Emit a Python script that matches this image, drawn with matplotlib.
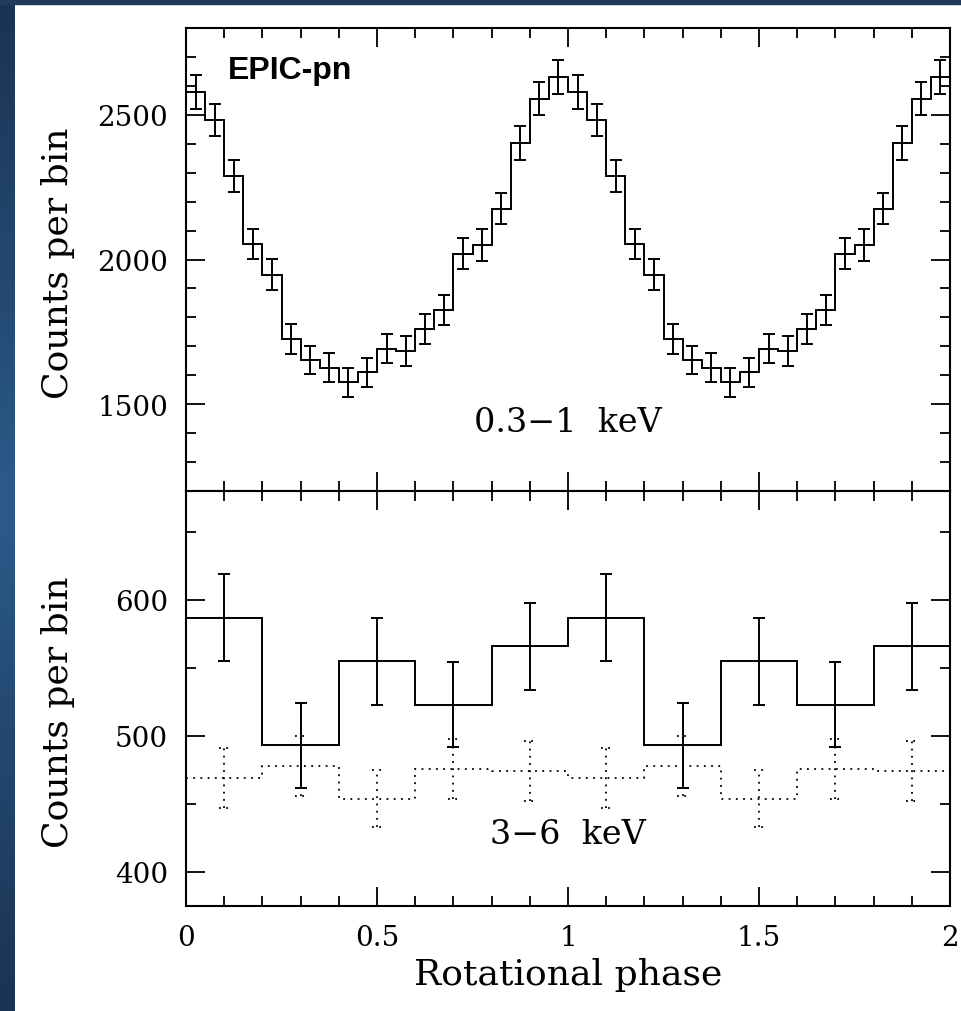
import numpy as np
import matplotlib
matplotlib.use("Agg")
import matplotlib.pyplot as plt
from matplotlib.ticker import MultipleLocator, FormatStrFormatter
from matplotlib.patches import Rectangle

# 0.3-1 keV light curve, 20 bins per cycle (shown twice)
soft_counts = [2579, 2483, 2289, 2054, 1948, 1725, 1653, 1626, 1575, 1610,
               1691, 1685, 1759, 1826, 2020, 2050, 2176, 2403, 2556, 2631]
soft_err = [58, 56, 56, 53, 53, 51, 49, 50, 50, 49,
            50, 52, 51, 51, 54, 55, 55, 58, 58, 58]

# 3-6 keV light curve and background, 5 bins per cycle
hard_counts = [587, 493, 555, 523, 566]
hard_err = [32, 31, 32, 31, 32]
bkg_counts = [469, 478, 454, 476, 474]
bkg_err = [22, 22, 21, 22, 22]

plt.rcParams['font.family'] = ['DejaVu Serif']

W, H = 962, 1012
fig = plt.figure(figsize=(W / 100, H / 100), dpi=100)
fig.patch.set_facecolor('white')

# slide background strip on the left and top
strip = fig.add_axes([0, 0, 15 / W, 1])
grad = np.concatenate([np.linspace(0, 1, 50), np.linspace(1, 0, 50)])[:, None]
cmap = matplotlib.colors.LinearSegmentedColormap.from_list('bg', ['#1b3352', '#2b5a8a'])
strip.imshow(grad, aspect='auto', cmap=cmap, extent=[0, 1, 0, 1])
strip.axis('off')
fig.patches.append(Rectangle((0, 1 - 5 / H), 1, 5 / H, transform=fig.transFigure,
                             color='#1e3a5c', zorder=5))

left = 186 / W
width = 764 / W
ax1 = fig.add_axes([left, 1 - 492 / H, width, 463 / H])
ax2 = fig.add_axes([left, 1 - 907 / H, width, 415 / H])


def phase_bins(n):
    edges = np.linspace(0, 2, 2 * n + 1)
    return edges, 0.5 * (edges[:-1] + edges[1:])


lw = 1.4
e1, c1 = phase_bins(len(soft_counts))
y1 = np.tile(soft_counts, 2)
ax1.stairs(y1, e1, color='black', lw=lw, baseline=None)
ax1.errorbar(c1, y1, yerr=np.tile(soft_err, 2), fmt='none', ecolor='black',
             elinewidth=lw, capsize=4, capthick=lw)

e2, c2 = phase_bins(len(hard_counts))
y2 = np.tile(hard_counts, 2)
ax2.stairs(y2, e2, color='black', lw=lw, baseline=None)
ax2.errorbar(c2, y2, yerr=np.tile(hard_err, 2), fmt='none', ecolor='black',
             elinewidth=lw, capsize=4, capthick=lw)

dot = (0, (1, 3))
yb = np.tile(bkg_counts, 2)
eb = np.tile(bkg_err, 2)
ax2.stairs(yb, e2, color='black', lw=1.3, ls=dot, baseline=None)
ax2.vlines(c2, yb - eb, yb + eb, color='black', lw=1.3, ls=dot)
ax2.hlines(np.concatenate([yb - eb, yb + eb]), np.tile(c2, 2) - 0.014,
           np.tile(c2, 2) + 0.014, color='black', lw=1.3, ls=dot)

for ax in (ax1, ax2):
    ax.set_xlim(0, 2)
    ax.xaxis.set_major_locator(MultipleLocator(0.5))
    ax.xaxis.set_minor_locator(MultipleLocator(0.1))
    ax.tick_params(which='both', direction='in', top=True, right=True,
                   width=1.3, labelsize=20, pad=13)
    ax.tick_params(which='major', length=14)
    ax.tick_params(which='minor', length=7)
    for s in ax.spines.values():
        s.set_linewidth(1.5)

ax1.set_ylim(1200, 2800)
ax1.yaxis.set_major_locator(MultipleLocator(500))
ax1.yaxis.set_minor_locator(MultipleLocator(100))
ax1.tick_params(labelbottom=False)

ax2.set_ylim(375, 680)
ax2.yaxis.set_major_locator(MultipleLocator(100))
ax2.yaxis.set_minor_locator(MultipleLocator(50))
ax2.xaxis.set_major_formatter(FormatStrFormatter('%g'))

ax1.text(0.11, 2628, 'EPIC-pn', family='Liberation Sans', fontweight='bold',
         fontsize=23, va='baseline', ha='left')
ax1.text(1.0, 1440, '0.3\u22121  keV', fontsize=24, ha='center', va='center')
ax2.text(1.0, 428, '3\u22126  keV', fontsize=24, ha='center', va='center')

fig.text(58 / W, 1 - 263 / H, 'Counts per bin', rotation=90, fontsize=26,
         ha='center', va='center')
fig.text(58 / W, 1 - 712 / H, 'Counts per bin', rotation=90, fontsize=26,
         ha='center', va='center')
fig.text(568 / W, 1 - 975 / H, 'Rotational phase', fontsize=26,
         ha='center', va='center')

fig.savefig('out.png', dpi=100)
